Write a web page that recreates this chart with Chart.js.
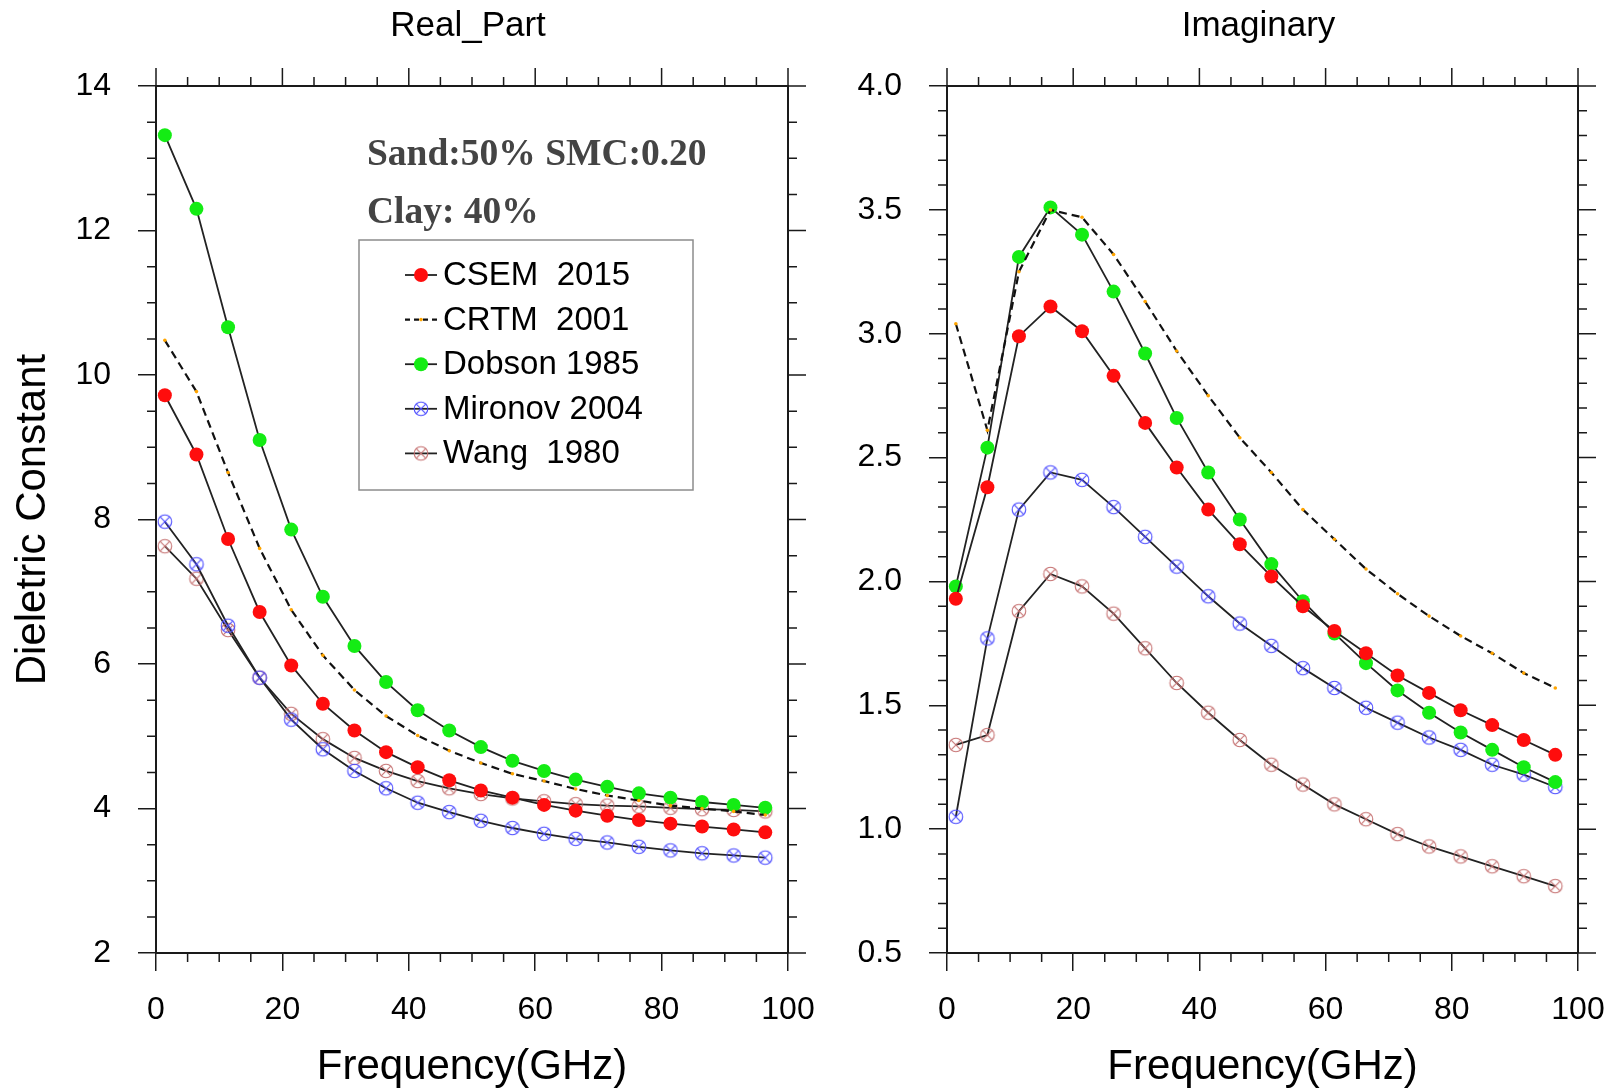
<!DOCTYPE html>
<html>
<head>
<meta charset="utf-8">
<script src="https://cdn.jsdelivr.net/npm/chart.js@4.4.0/dist/chart.umd.min.js"></script>
<style>
  body { margin: 0; background: #fff; width: 1617px; height: 1089px; overflow: hidden; position: relative; }
  .panel { position: absolute; top: 0; height: 1089px; }
  #left { left: 0; width: 830px; }
  #right { left: 808px; width: 809px; }
</style>
</head>
<body>
<div class="panel" id="left"><canvas id="realChart" width="830" height="1089"></canvas></div>
<div class="panel" id="right"><canvas id="imagChart" width="809" height="1089"></canvas></div>
<script>
// frequencies (GHz)
const freq = [1.4, 6.4, 11.4, 16.4, 21.4, 26.4, 31.4, 36.4, 41.4, 46.4, 51.4, 56.4, 61.4, 66.4, 71.4, 76.4, 81.4, 86.4, 91.4, 96.4];

// real part
const realCSEM    = [9.72, 8.90, 7.73, 6.72, 5.98, 5.45, 5.08, 4.78, 4.57, 4.39, 4.25, 4.15, 4.05, 3.97, 3.90, 3.84, 3.79, 3.75, 3.71, 3.67];
const realCRTM    = [10.48, 9.77, 8.65, 7.60, 6.75, 6.12, 5.64, 5.28, 5.01, 4.80, 4.63, 4.48, 4.38, 4.27, 4.18, 4.11, 4.04, 4.00, 3.96, 3.91];
const realDobson  = [13.32, 12.30, 10.66, 9.10, 7.86, 6.93, 6.25, 5.75, 5.36, 5.08, 4.85, 4.66, 4.52, 4.40, 4.30, 4.21, 4.15, 4.09, 4.05, 4.01];
const realMironov = [7.97, 7.38, 6.53, 5.81, 5.23, 4.82, 4.52, 4.28, 4.08, 3.95, 3.83, 3.73, 3.65, 3.58, 3.53, 3.47, 3.42, 3.38, 3.35, 3.32];
const realWang    = [7.63, 7.18, 6.47, 5.81, 5.31, 4.96, 4.70, 4.52, 4.38, 4.28, 4.20, 4.14, 4.10, 4.06, 4.04, 4.03, 4.01, 3.99, 3.98, 3.96];

// imaginary part
const imagCSEM    = [1.93, 2.38, 2.99, 3.11, 3.01, 2.83, 2.64, 2.46, 2.29, 2.15, 2.02, 1.90, 1.80, 1.71, 1.62, 1.55, 1.48, 1.42, 1.36, 1.30];
const imagCRTM    = [3.04, 2.61, 3.25, 3.50, 3.47, 3.32, 3.13, 2.93, 2.75, 2.58, 2.44, 2.29, 2.17, 2.05, 1.95, 1.86, 1.78, 1.71, 1.63, 1.57];
const imagDobson  = [1.98, 2.54, 3.31, 3.51, 3.40, 3.17, 2.92, 2.66, 2.44, 2.25, 2.07, 1.92, 1.79, 1.67, 1.56, 1.47, 1.39, 1.32, 1.25, 1.19];
const imagMironov = [1.05, 1.77, 2.29, 2.44, 2.41, 2.30, 2.18, 2.06, 1.94, 1.83, 1.74, 1.65, 1.57, 1.49, 1.43, 1.37, 1.32, 1.26, 1.22, 1.17];
const imagWang    = [1.34, 1.38, 1.88, 2.03, 1.98, 1.87, 1.73, 1.59, 1.47, 1.36, 1.26, 1.18, 1.10, 1.04, 0.98, 0.93, 0.89, 0.85, 0.81, 0.77];

const seriesNames = ['CSEM  2015', 'CRTM  2001', 'Dobson 1985', 'Mironov 2004', 'Wang  1980'];
const xTicks = [0, 20, 40, 60, 80, 100];

const LINE = '#222';
const AXIS = '#1a1a1a';
const FONT = "'Liberation Sans', Arial, sans-serif";

// circle with an x inside, NCL marker style
function ringCross(color) {
  const c = document.createElement('canvas');
  c.width = c.height = 18;
  const g = c.getContext('2d');
  const r = 6.8, d = r * Math.SQRT1_2;
  g.strokeStyle = color;
  g.lineWidth = 1.1;
  g.beginPath(); g.arc(9, 9, r, 0, Math.PI * 2); g.stroke();
  g.beginPath();
  g.moveTo(9 - d, 9 - d); g.lineTo(9 + d, 9 + d);
  g.moveTo(9 + d, 9 - d); g.lineTo(9 - d, 9 + d);
  g.stroke();
  return c;
}
const mironovMark = ringCross('#4a4aff');
const wangMark = ringCross('#c67272');

function makeSets(csem, crtm, dobson, mironov, wang) {
  const pts = arr => freq.map((f, i) => ({ x: f, y: arr[i] }));
  const base = { borderColor: LINE, borderWidth: 1.8, tension: 0, pointBorderWidth: 0 };
  return [
    { ...base, label: seriesNames[0], data: pts(csem), pointStyle: 'circle', pointRadius: 7,
      pointBackgroundColor: '#ff0d0d', pointBorderColor: '#ff0d0d' },
    { ...base, label: seriesNames[1], data: pts(crtm), borderColor: '#111', borderWidth: 2.2, borderDash: [8, 5],
      pointStyle: 'circle', pointRadius: 1.8, pointBackgroundColor: '#ffa500', pointBorderColor: '#ffa500' },
    { ...base, label: seriesNames[2], data: pts(dobson), pointStyle: 'circle', pointRadius: 7,
      pointBackgroundColor: '#14ec14', pointBorderColor: '#14ec14' },
    { ...base, label: seriesNames[3], data: pts(mironov), pointStyle: mironovMark, pointRadius: 7,
      pointBackgroundColor: '#4a4aff', pointBorderColor: '#4a4aff' },
    { ...base, label: seriesNames[4], data: pts(wang), pointStyle: wangMark, pointRadius: 7,
      pointBackgroundColor: '#c67272', pointBorderColor: '#c67272' }
  ];
}

// top/right frame, minor ticks, mirrored ticks, panel title
const frame = {
  id: 'frame',
  afterDraw(chart, args, o) {
    const { ctx, chartArea: a, scales: { x, y } } = chart;
    const near = (v, step) => Math.abs(v / step - Math.round(v / step)) < 1e-6;
    ctx.save();
    ctx.strokeStyle = AXIS;
    ctx.lineWidth = 2;
    ctx.beginPath();
    ctx.moveTo(a.left, a.top); ctx.lineTo(a.right, a.top); ctx.lineTo(a.right, a.bottom);
    ctx.stroke();

    ctx.lineWidth = 1.5;
    ctx.beginPath();
    for (let i = 0; x.min + i * o.xMinor <= x.max + 1e-9; i++) {
      const v = x.min + i * o.xMinor;
      const px = x.getPixelForValue(v);
      const major = near(v, o.xMajor);
      const len = major ? 18 : 9;
      ctx.moveTo(px, a.top); ctx.lineTo(px, a.top - len);
      if (!major) { ctx.moveTo(px, a.bottom); ctx.lineTo(px, a.bottom + len); }
    }
    for (let i = 0; y.min + i * o.yMinor <= y.max + 1e-9; i++) {
      const v = y.min + i * o.yMinor;
      const py = y.getPixelForValue(v);
      const major = near(v - y.min, o.yMajor);
      const len = major ? 18 : 9;
      ctx.moveTo(a.right, py); ctx.lineTo(a.right + len, py);
      if (!major) { ctx.moveTo(a.left, py); ctx.lineTo(a.left - len, py); }
    }
    ctx.stroke();

    ctx.fillStyle = '#000';
    ctx.font = `35px ${FONT}`;
    ctx.textAlign = 'center';
    ctx.textBaseline = 'middle';
    ctx.fillText(o.title, (a.left + a.right) / 2 - 4, 26);
    ctx.restore();
  }
};

// boxed legend + soil notes
const boxLegend = {
  id: 'boxLegend',
  afterDraw(chart, args, o) {
    if (!o.box) return;
    const ctx = chart.ctx;
    const b = o.box;
    ctx.save();
    ctx.fillStyle = '#444';
    ctx.font = "bold 37.5px 'Liberation Serif', 'Times New Roman', serif";
    ctx.textAlign = 'left';
    ctx.textBaseline = 'alphabetic';
    o.notes.forEach(n => ctx.fillText(n.text, n.x, n.y));

    ctx.strokeStyle = '#8c8c8c';
    ctx.lineWidth = 1.5;
    ctx.strokeRect(b.left, b.top, b.width, b.height);

    ctx.font = `33px ${FONT}`;
    ctx.textBaseline = 'middle';
    chart.data.datasets.forEach((ds, i) => {
      const yy = b.rowTop + i * b.rowGap;
      ctx.strokeStyle = ds.borderColor;
      ctx.lineWidth = ds.borderWidth;
      ctx.setLineDash(ds.borderDash ? [5, 4] : []);
      ctx.beginPath(); ctx.moveTo(b.lineFrom, yy); ctx.lineTo(b.lineTo, yy); ctx.stroke();
      ctx.setLineDash([]);
      ctx.fillStyle = ds.pointBackgroundColor;
      ctx.strokeStyle = ds.pointBorderColor;
      Chart.helpers.drawPoint(ctx, { pointStyle: ds.pointStyle, radius: ds.pointRadius, borderWidth: 0, rotation: 0 },
        (b.lineFrom + b.lineTo) / 2, yy);
      ctx.fillStyle = '#000';
      ctx.fillText(ds.label, b.textX, yy + 1);
    });
    ctx.restore();
  }
};

function panelOptions(cfg) {
  return {
    responsive: false,
    animation: false,
    layout: { padding: { top: 86, right: cfg.rightPad, left: 0, bottom: 0 } },
    plugins: {
      legend: { display: false },
      tooltip: { enabled: false },
      frame: { title: cfg.title, xMajor: 20, xMinor: 5, yMajor: cfg.yStep, yMinor: cfg.yMinor },
      boxLegend: cfg.legend || {}
    },
    scales: {
      x: {
        type: 'linear', min: 0, max: 100,
        afterBuildTicks: s => { s.ticks = xTicks.map(v => ({ value: v })); },
        ticks: { color: '#000', font: { family: FONT, size: 32 }, padding: 20, maxRotation: 0 },
        grid: { drawOnChartArea: false, tickLength: 18, color: AXIS, lineWidth: 1.5 },
        border: { color: AXIS, width: 2 },
        title: { display: true, text: 'Frequency(GHz)', color: '#000',
                 font: { family: FONT, size: 42, lineHeight: 1 }, padding: { top: 0, bottom: 1 } },
        // the "100" label may overhang the frame, as in the original
        afterFit: s => { s.height = 136; s.paddingLeft = 0; s.paddingRight = 0; }
      },
      y: {
        type: 'linear', min: cfg.yMin, max: cfg.yMax,
        ticks: { stepSize: cfg.yStep, color: '#000', font: { family: FONT, size: 32 }, padding: 27,
                 callback: cfg.yFmt },
        grid: { drawOnChartArea: false, tickLength: 18, color: AXIS, lineWidth: 1.5 },
        border: { color: AXIS, width: 2 },
        title: { display: !!cfg.yTitle, text: cfg.yTitle || '', color: '#000', font: { family: FONT, size: 42 },
                 padding: { top: 8, bottom: 0 } },
        afterFit: s => { s.width = cfg.yWidth; s.paddingTop = 0; s.paddingBottom = 0; }
      }
    }
  };
}

new Chart(document.getElementById('realChart'), {
  type: 'line',
  data: { datasets: makeSets(realCSEM, realCRTM, realDobson, realMironov, realWang) },
  options: panelOptions({
    title: 'Real_Part', rightPad: 42, yWidth: 156,
    yMin: 2, yMax: 14, yStep: 2, yMinor: 0.5, yFmt: v => String(v),
    yTitle: 'Dieletric Constant',
    legend: {
      notes: [
        { text: 'Sand:50% SMC:0.20', x: 367, y: 165 },
        { text: 'Clay: 40%', x: 367, y: 223 }
      ],
      box: { left: 359, top: 240, width: 334, height: 250, rowTop: 275, rowGap: 44.6,
             lineFrom: 405, lineTo: 437, textX: 443 }
    }
  }),
  plugins: [frame, boxLegend]
});

new Chart(document.getElementById('imagChart'), {
  type: 'line',
  data: { datasets: makeSets(imagCSEM, imagCRTM, imagDobson, imagMironov, imagWang) },
  options: panelOptions({
    title: 'Imaginary', rightPad: 39, yWidth: 139,
    yMin: 0.5, yMax: 4.0, yStep: 0.5, yMinor: 0.1, yFmt: v => v.toFixed(1)
  }),
  plugins: [frame, boxLegend]
});
</script>
</body>
</html>
